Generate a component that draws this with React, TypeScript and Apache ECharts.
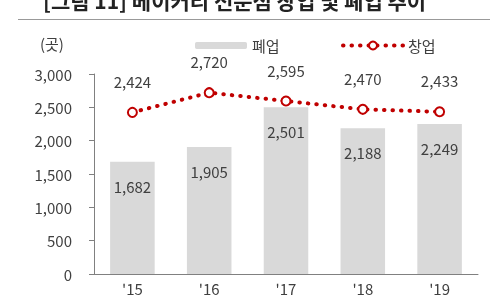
import React, { useEffect, useRef } from "react";
import * as echarts from "echarts";

const categories = ["'15", "'16", "'17", "'18", "'19"];
const closures = [1682, 1905, 2501, 2188, 2249];
const openings = [2424, 2720, 2595, 2470, 2433];
const yTicks = [0, 500, 1000, 1500, 2000, 2500, 3000];
const titleText = "[그림 11] 베이커리 전문점 창업 및 폐업 추이";
const unitText = "(곳)";

const FONT = '"Noto Sans CJK KR", "Noto Sans", sans-serif';
const TXT = "#404040";
const fmt = (v: number) => v.toLocaleString("en-US");

export default function App() {
  const ref = useRef<HTMLDivElement>(null);
  useEffect(() => {
    const chart = echarts.init(ref.current!, null, { renderer: "svg" });
    chart.setOption({
      animation: false,
      textStyle: { fontFamily: FONT },
      grid: { left: 94, right: 22, top: 74, bottom: 26 },
      legend: [
        {
          data: ["폐업"],
          left: 190,
          top: 33,
          itemWidth: 52,
          itemHeight: 7,
          itemGap: 6,
          textStyle: { fontSize: 15, color: TXT, fontFamily: FONT },
        },
        {
          data: ["창업"],
          left: 336,
          top: 33,
          itemWidth: 60,
          itemHeight: 10,
          itemStyle: { color: "#fff", borderColor: "#c00000", borderWidth: 2 },
          lineStyle: { color: "#c00000", width: 4, type: [0.5, 8], cap: "round" },
          textStyle: { fontSize: 15, color: TXT, fontFamily: FONT },
        },
      ],
      xAxis: {
        type: "category",
        data: categories,
        axisLine: { lineStyle: { color: "#808080", width: 1 } },
        axisTick: { show: false },
        axisLabel: { fontSize: 15, color: TXT, margin: 7, fontFamily: FONT },
      },
      yAxis: {
        type: "value",
        min: yTicks[0],
        max: yTicks[yTicks.length - 1],
        interval: 500,
        axisLine: { show: true, lineStyle: { color: "#808080", width: 1 } },
        axisTick: { show: true, length: 5, lineStyle: { color: "#808080" } },
        splitLine: { show: false },
        axisLabel: {
          fontSize: 15,
          color: TXT,
          margin: 22,
          fontFamily: FONT,
          formatter: (v: number) => fmt(v),
        },
      },
      series: [
        {
          name: "폐업",
          type: "bar",
          data: closures,
          barWidth: "58%",
          itemStyle: { color: "#d9d9d9" },
          label: {
            show: true,
            position: "insideTop",
            distance: 17,
            fontSize: 15,
            color: TXT,
            fontFamily: FONT,
            formatter: (p: any) => fmt(p.value),
          },
        },
        {
          name: "창업",
          type: "line",
          data: openings,
          symbol: "circle",
          symbolSize: 9,
          itemStyle: { color: "#fff", borderColor: "#c00000", borderWidth: 2 },
          lineStyle: { color: "#c00000", width: 4, type: [0.5, 8], cap: "round" },
          label: {
            show: true,
            position: "top",
            distance: 18,
            fontSize: 15,
            color: TXT,
            fontFamily: FONT,
            formatter: (p: any) => fmt(p.value),
          },
        },
      ],
      graphic: [
        {
          type: "text",
          left: 43,
          top: -11,
          style: {
            text: titleText,
            fontSize: 21,
            fontWeight: "bold",
            fill: "#222",
            fontFamily: FONT,
          },
        },
        {
          type: "line",
          shape: { x1: 18, y1: 19.5, x2: 490, y2: 19.5 },
          style: { stroke: "#999", lineWidth: 1 },
        },
        {
          type: "text",
          left: 40,
          top: 36,
          style: { text: unitText, fontSize: 15, fill: TXT, fontFamily: FONT },
        },
      ],
    });
    return () => chart.dispose();
  }, []);
  return <div ref={ref} style={{ width: 500, height: 300, position: "fixed", left: 0, top: 0 }} />;
}
